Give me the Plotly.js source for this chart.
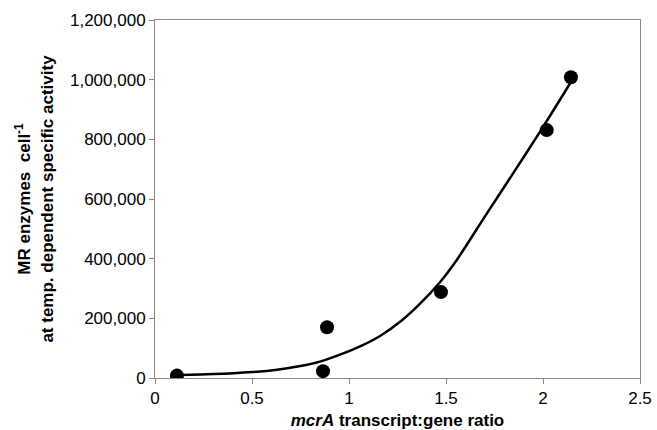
<!DOCTYPE html>
<html>
<head>
<meta charset="utf-8">
<script src="https://cdn.plot.ly/plotly-3.0.1.min.js"></script>
<style>html,body{margin:0;padding:0;background:#fff;}#chart{width:657px;height:430px;}</style>
</head>
<body>
<div id="chart"></div>
<script>
// Measured data points
const ratio = [0.113, 0.866, 0.887, 1.474, 2.019, 2.144];
const enzymes = [8000, 23000, 170000, 288000, 831000, 1008000];

// Fitted curve
const curveX = [0.12, 0.3, 0.5, 0.62, 0.75, 0.85, 0.96, 1.06, 1.16, 1.27, 1.36, 1.47, 1.56, 1.70, 1.84, 1.99, 2.14];
const curveY = [10000, 13000, 20000, 27000, 40000, 55000, 80000, 107000, 141000, 192000, 245000, 322000, 400000, 541000, 680000, 831000, 988000];

const xTicks = [0, 0.5, 1, 1.5, 2, 2.5];
const yTicks = [0, 200000, 400000, 600000, 800000, 1000000, 1200000];

const traces = [
  {x: curveX, y: curveY, mode: 'lines', line: {color: '#000', width: 2.5, shape: 'spline', smoothing: 0.7, simplify: false}, hoverinfo: 'skip'},
  {x: ratio, y: enzymes, mode: 'markers', marker: {color: '#000', size: 14}}
];

const axisCommon = {
  showline: true, mirror: true, linecolor: '#888', linewidth: 1,
  ticks: 'outside', ticklen: 5, tickcolor: '#888', showgrid: false, zeroline: false,
  tickfont: {family: 'Liberation Sans, Arial, sans-serif', size: 17, color: '#000'}
};

const layout = {
  width: 657, height: 430,
  margin: {l: 155, r: 17, t: 20, b: 52},
  paper_bgcolor: '#fff', plot_bgcolor: '#fff',
  showlegend: false,
  font: {family: 'Liberation Sans, Arial, sans-serif', color: '#000'},
  xaxis: Object.assign({}, axisCommon, {
    range: [0, 2.5], tickvals: xTicks, ticktext: xTicks.map(String),
    title: {text: '<b><i>mcrA</i> transcript:gene ratio</b>', font: {size: 17}, standoff: 6}
  }),
  yaxis: Object.assign({}, axisCommon, {
    range: [0, 1200000], tickvals: yTicks, tickformat: ',d',
    title: {text: '<b>MR enzymes  cell<sup>-1</sup><br>at temp. dependent specific activity</b>', font: {size: 17}, standoff: 12}
  })
};

Plotly.newPlot('chart', traces, layout, {displayModeBar: false, staticPlot: true});
</script>
</body>
</html>
